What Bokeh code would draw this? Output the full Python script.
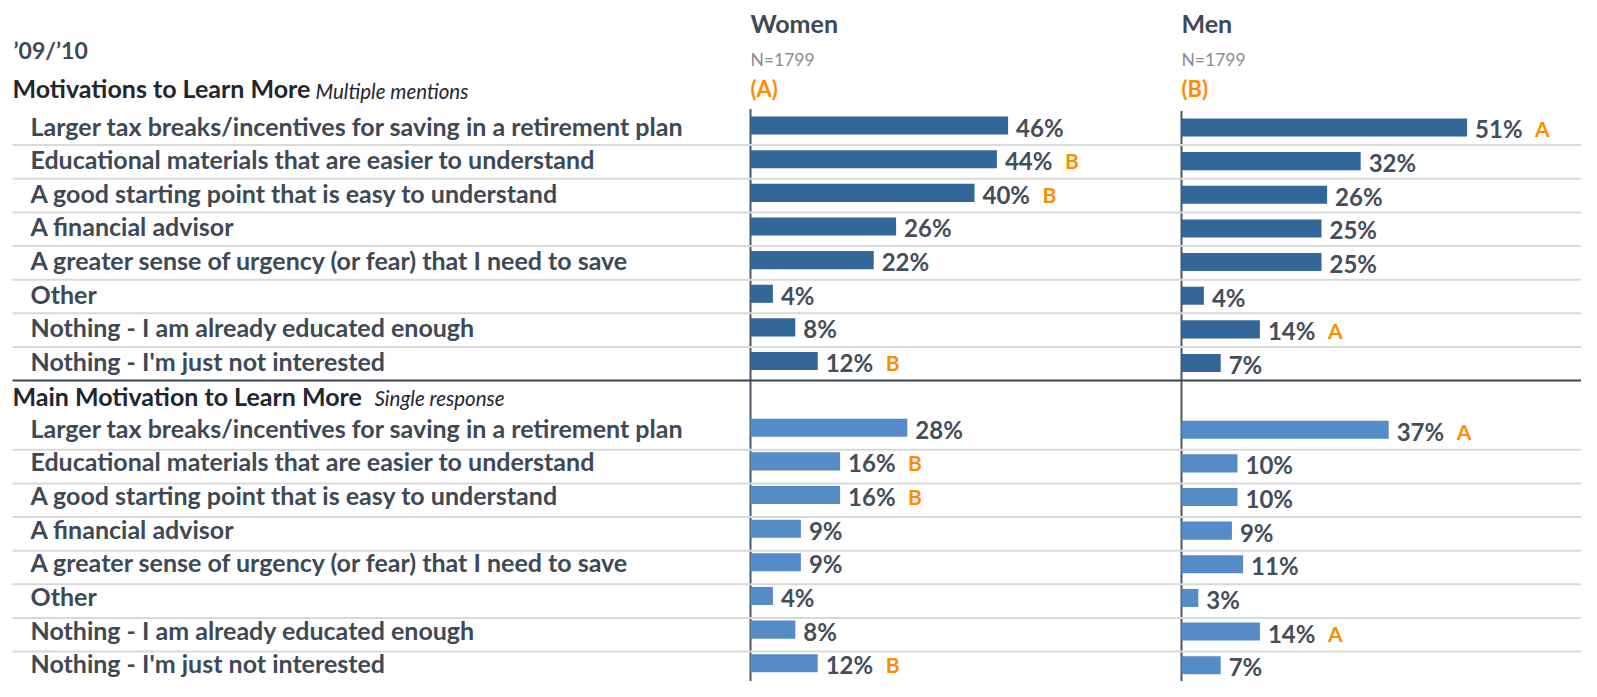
from bokeh.plotting import figure
from bokeh.models import Range1d, ColumnDataSource
from bokeh.core.properties import value
from bokeh.embed import file_html
from bokeh.resources import INLINE

# ---------------- data ----------------
period = "\u201909/\u201910"
groups = ["Women", "Men"]
group_n = ["N=1799", "N=1799"]
group_codes = ["(A)", "(B)"]
sections = ["Motivations to Learn More", "Main Motivation to Learn More"]
section_notes = ["Multiple mentions", "Single response"]
categories = [
    "Larger tax breaks/incentives for saving in a retirement plan",
    "Educational materials that are easier to understand",
    "A good starting point that is easy to understand",
    "A financial advisor",
    "A greater sense of urgency (or fear) that I need to save",
    "Other",
    "Nothing - I am already educated enough",
    "Nothing - I'm just not interested",
]
multi_women = [46, 44, 40, 26, 22, 4, 8, 12]
multi_men = [51, 32, 26, 25, 25, 4, 14, 7]
main_women = [28, 16, 16, 9, 9, 4, 8, 12]
main_men = [37, 10, 10, 9, 11, 3, 14, 7]
multi_women_sig = ["", "B", "B", "", "", "", "", "B"]
multi_men_sig = ["A", "", "", "", "", "", "A", ""]
main_women_sig = ["", "B", "B", "", "", "", "", "B"]
main_men_sig = ["A", "", "", "", "", "", "A", ""]

# ---------------- layout (reference pixel units) ----------------
W, H = 1581, 681
REF_H = 697
PX_PER_PCT = 5.6
ORIGIN_PX = [750.0, 1181.0]       # where each panel's bars start
PANEL_DY = [0.0, 2.0]
ROW_PITCH = 34.43
SECTION_ROW0 = [128.0, 437.3]
SEP_OFFSET = [20.0, 22.5]

def px2x(px):
    return (px - ORIGIN_PX[0]) / PX_PER_PCT

ORIGIN_X = [px2x(o) for o in ORIGIN_PX]

FONT = value("Lato")
C_LABEL = "#3e4956"
C_HEAD = "#1f262e"
C_VAL = "#434e5b"
C_ORANGE = "#ff8c00"
C_GREY = "#8c8c8c"
BAR_COLORS = ["#336699", "#558bc6"]

p = figure(width=W, height=H, output_backend="svg", toolbar_location=None,
           x_range=Range1d(px2x(0), px2x(W)), y_range=Range1d(REF_H, 0),
           x_axis_type=None, y_axis_type=None, min_border=0)
p.grid.visible = False
p.outline_line_color = None
p.background_fill_color = "white"
p.border_fill_color = "white"

# top title
p.text(x=[px2x(13)], y=[50.5], text=[period], text_font=FONT, text_font_style="bold",
       text_font_size="23px", text_color=C_LABEL, text_baseline="middle")

# panel headers
for g in range(2):
    x0 = ORIGIN_X[g]
    dy = PANEL_DY[g]
    p.text(x=[x0], y=[23.3], text=[groups[g]], text_font=FONT, text_font_style="bold",
           text_font_size="25px", text_color=C_LABEL, text_baseline="middle")
    p.text(x=[x0], y=[60.0], text=[group_n[g]], text_font=FONT,
           text_font_size="17.5px", text_color=C_GREY, text_baseline="middle")
    p.text(x=[x0], y=[90.0], text=[group_codes[g]], text_font=FONT, text_font_style="bold",
           text_font_size="22px", text_color=C_ORANGE, text_baseline="middle")
    # vertical axis line for the panel
    p.segment(x0=[x0], y0=[111 + dy], x1=[x0], y1=[REF_H], line_color="#4d5763", line_width=2)

section_data = [
    (multi_women, multi_men, multi_women_sig, multi_men_sig),
    (main_women, main_men, main_women_sig, main_men_sig),
]
section_mid = [90.0, 404.7]
note_px = [315, 374]

for s in range(2):
    ys = [SECTION_ROW0[s] + i * ROW_PITCH for i in range(len(categories))]
    # section header
    p.text(x=[px2x(12)], y=[section_mid[s]], text=[sections[s]], text_font=FONT,
           text_font_style="bold", text_font_size="25px", text_color=C_HEAD,
           text_baseline="middle")
    p.text(x=[px2x(note_px[s])], y=[section_mid[s] + 2.5], text=[section_notes[s]], text_font=FONT,
           text_font_style="italic", text_font_size="20.5px", text_color=C_HEAD,
           text_baseline="middle")
    # row labels
    p.text(x=[px2x(30)] * len(ys), y=ys, text=categories, text_font=FONT,
           text_font_style="bold", text_font_size="25px", text_color=C_LABEL,
           text_baseline="middle")
    # separators
    sep_y = [y + SEP_OFFSET[s] for y in ys]
    thick_y = sep_y[-1]
    sep_y = sep_y[:-1]
    p.segment(x0=[px2x(12)] * len(sep_y), y0=sep_y, x1=[px2x(1600)] * len(sep_y), y1=sep_y,
              line_color="#d9d9d9", line_width=2)
    if s == 0:
        p.segment(x0=[px2x(12)], y0=[thick_y], x1=[px2x(1600)], y1=[thick_y],
                  line_color="#3b4550", line_width=2)

    women, men, wsig, msig = section_data[s]
    for g, (vals, sig) in enumerate([(women, wsig), (men, msig)]):
        x0 = ORIGIN_X[g]
        yy = [y + PANEL_DY[g] for y in ys]
        src = ColumnDataSource(dict(
            y=yy,
            left=[x0] * len(vals),
            right=[x0 + v for v in vals],
            lab=[f"{v}%" for v in vals],
            laby=[y + 1.5 for y in yy],
            sig=sig,
        ))
        p.hbar(y="y", left="left", right="right", height=18.5, source=src,
               fill_color=BAR_COLORS[s], line_color=None)
        p.text(x="right", y="laby", text="lab", source=src, x_offset=8, text_font=FONT,
               text_font_style="bold", text_font_size="24px", text_color=C_VAL,
               text_baseline="middle")
        p.text(x="right", y="laby", text="sig", source=src, x_offset=68, text_font=FONT,
               text_font_style="bold", text_font_size="21px", text_color=C_ORANGE,
               text_baseline="middle")

open("out.html", "w").write(file_html(p, INLINE))
